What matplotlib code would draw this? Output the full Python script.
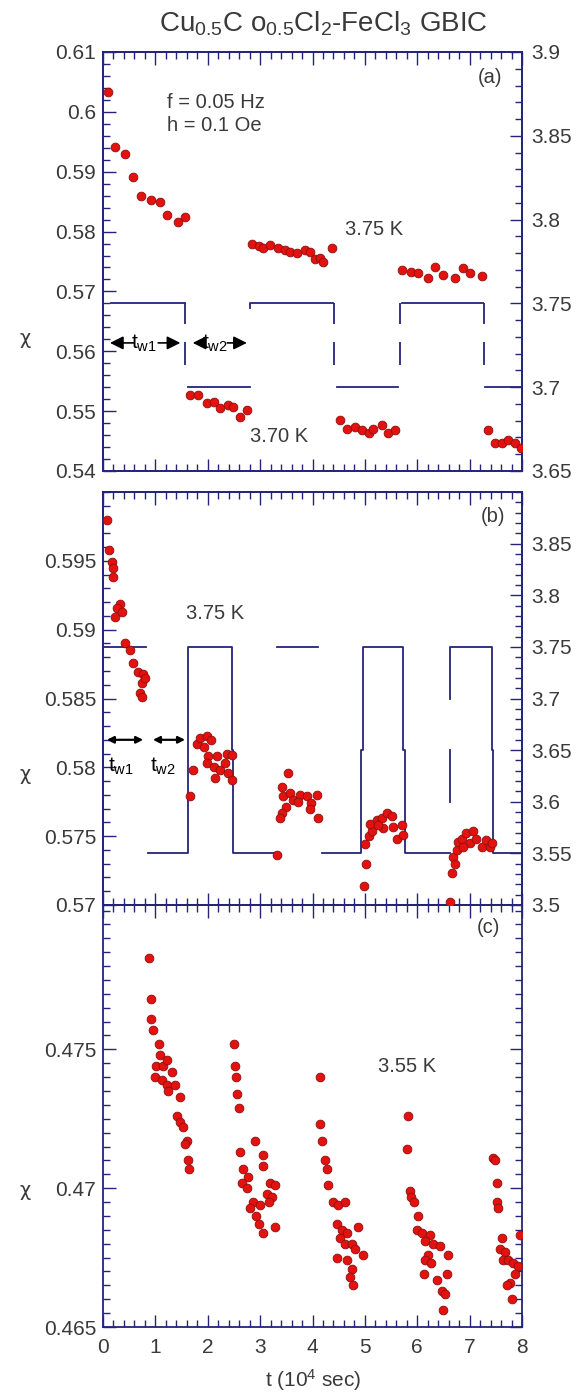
import numpy as np
import matplotlib
matplotlib.use('Agg')
import matplotlib.pyplot as plt
from matplotlib.ticker import MultipleLocator, FormatStrFormatter

plt.rcParams['font.family'] = ['Liberation Sans', 'DejaVu Sans']
plt.rcParams['mathtext.fontset'] = 'custom'
plt.rcParams['mathtext.rm'] = 'Liberation Sans'
plt.rcParams['mathtext.it'] = 'Liberation Sans'

# ---- data (t in 10^4 s) ----
# panel (a): f = 0.05 Hz, T cycled 3.75 K / 3.70 K
a_t = [0.10, 0.22, 0.42, 0.57, 0.72, 0.92, 1.08, 1.22, 1.43, 1.57,
       1.66, 1.82, 1.98, 2.11, 2.23, 2.39, 2.49, 2.62, 2.74,
       2.85, 2.98, 3.06, 3.19, 3.35, 3.47, 3.57, 3.70, 3.86, 3.95, 4.05, 4.14, 4.21, 4.37,
       4.52, 4.65, 4.81, 4.94, 5.07, 5.16, 5.32, 5.45, 5.58,
       5.70, 5.89, 6.02, 6.21, 6.34, 6.50, 6.72, 6.88, 7.01, 7.23,
       7.36, 7.48, 7.61, 7.74, 7.87, 7.99]
a_chi = [0.6034, 0.5941, 0.5929, 0.5892, 0.5859, 0.5852, 0.5849, 0.5828, 0.5816, 0.5824,
         0.5527, 0.5527, 0.5513, 0.5516, 0.5505, 0.5510, 0.5507, 0.5491, 0.5502,
         0.5780, 0.5776, 0.5772, 0.5778, 0.5772, 0.5770, 0.5766, 0.5764, 0.5769, 0.5766, 0.5755, 0.5756, 0.5750, 0.5772,
         0.5485, 0.5471, 0.5474, 0.5469, 0.5463, 0.5471, 0.5477, 0.5463, 0.5469,
         0.5736, 0.5733, 0.5730, 0.5722, 0.5741, 0.5727, 0.5722, 0.5739, 0.5730, 0.5725,
         0.5469, 0.5446, 0.5446, 0.5452, 0.5446, 0.5438]
# temperature trace (a), NaN = gap in the record
a_T_t = [0.15, 1.57, np.nan, 1.62, 2.80, np.nan, 2.80, 2.80, 4.40, np.nan, 4.46, 5.63, np.nan,
         5.70, 7.26, np.nan, 7.29, 8.0]
a_T = [3.75, 3.75, np.nan, 3.70, 3.70, np.nan, 3.747, 3.75, 3.75, np.nan, 3.70, 3.70, np.nan,
       3.75, 3.75, np.nan, 3.70, 3.70]
# broken vertical steps of the T record in (a)
a_jumps = [1.57, 4.42, 5.67, 7.27]
a_jump_lo = [3.738, 3.713]
a_jump_hi = [3.750, 3.727]

# panel (b): 3.75 K / 3.55 K
b_t = [0.07, 0.12, 0.17, 0.20, 0.19, 0.32, 0.26, 0.23, 0.36, 0.42, 0.52, 0.58, 0.67, 0.77, 0.74, 0.71, 0.80, 0.74,
       1.66, 1.71, 1.79, 1.85, 1.98, 2.07, 1.92, 2.01, 1.98, 2.11, 2.17, 2.23, 2.33, 2.39, 2.36, 2.46, 2.46, 2.14,
       3.32, 3.54, 3.41, 3.44, 3.57, 3.63, 3.50, 3.41, 3.38, 3.76, 3.89, 3.98, 4.08, 3.95, 4.11, 3.73,
       4.99, 5.02, 5.00, 5.07, 5.13, 5.10, 5.23, 5.32, 5.42, 5.35, 5.51, 5.54, 5.61, 5.70, 5.73, 5.26,
       6.63, 6.66, 6.69, 6.75, 6.78, 6.85, 6.94, 7.01, 7.07, 7.13, 7.23, 7.32, 7.39, 7.42, 6.88, 6.72]
b_chi = [0.5980, 0.5958, 0.5949, 0.5945, 0.5938, 0.5919, 0.5916, 0.5909, 0.5913, 0.5890, 0.5885, 0.5876, 0.5869,
         0.5868, 0.5861, 0.5854, 0.5865, 0.5851,
         0.5779, 0.5798, 0.5817, 0.5821, 0.5823, 0.5820, 0.5815, 0.5808, 0.5803, 0.5800, 0.5808, 0.5798, 0.5803,
         0.5796, 0.5810, 0.5809, 0.5791, 0.5792,
         0.5736, 0.5796, 0.5786, 0.5779, 0.5781, 0.5776, 0.5771, 0.5767, 0.5763, 0.5780, 0.5779, 0.5774, 0.5780,
         0.5770, 0.5763, 0.5775,
         0.5714, 0.5730, 0.5744, 0.5750, 0.5754, 0.5759, 0.5762, 0.5763, 0.5767, 0.5756, 0.5765, 0.5757, 0.5748,
         0.5758, 0.5751, 0.5758,
         0.5702, 0.5723, 0.5735, 0.5740, 0.5746, 0.5748, 0.5752, 0.5745, 0.5754, 0.5748, 0.5742, 0.5747, 0.5742,
         0.5745, 0.5742, 0.5730]
b_T_t = [0.0, 0.83, np.nan, 0.86, 1.63, 1.63, 2.46, 2.46, 2.49, 2.49, 3.32, np.nan,
         3.32, 4.11, np.nan, 4.18, 4.93, 4.93, 4.97, 4.97, 5.73, 5.73, 5.77, 5.77, 6.63, np.nan,
         6.63, 6.63, np.nan, 6.63, 6.63, 7.42, 7.42, 7.45, 7.45, 8.0]
b_T = [3.75, 3.75, np.nan, 3.55, 3.55, 3.75, 3.75, 3.65, 3.65, 3.55, 3.55, np.nan,
       3.75, 3.75, np.nan, 3.55, 3.55, 3.65, 3.65, 3.75, 3.75, 3.65, 3.65, 3.55, 3.55, np.nan,
       3.60, 3.65, np.nan, 3.70, 3.75, 3.75, 3.65, 3.65, 3.55, 3.55]

# panel (c): 3.55 K
c_t = [0.88, 0.92, 0.92, 0.96, 1.06, 1.09, 1.02, 1.15, 1.22, 1.31, 1.00, 1.12, 1.22, 1.37, 1.25, 1.47, 1.41, 1.47,
       1.53, 1.60, 1.57, 1.63, 1.65,
       2.50, 2.52, 2.54, 2.56, 2.60, 2.90, 2.62, 3.06, 3.05, 2.68, 2.77, 2.65, 2.74, 3.19, 3.28, 3.13, 3.22, 2.87,
       2.81, 3.00, 2.93, 2.97, 3.06, 3.28, 3.16,
       4.14, 4.14, 4.19, 4.24, 4.27, 4.30, 4.40, 4.49, 4.62, 4.46, 4.56, 4.65, 4.87, 4.53, 4.62, 4.75, 4.81, 4.97,
       4.46, 4.65, 4.75, 4.72, 4.78,
       5.83, 5.80, 5.86, 5.89, 5.93, 6.02, 5.99, 6.09, 6.24, 6.15, 6.31, 6.43, 6.59, 6.21, 6.15, 6.27, 6.12, 6.37,
       6.56, 6.47, 6.53, 6.50,
       7.45, 7.48, 7.52, 7.52, 7.55, 7.61, 7.58, 7.68, 7.64, 7.74, 7.83, 7.93, 7.96, 7.87, 7.77, 7.80, 7.71]
c_chi = [0.4783, 0.4768, 0.4761, 0.4757, 0.4752, 0.4748, 0.4744, 0.4744, 0.4746, 0.4742, 0.4740, 0.4739, 0.4737,
         0.4737, 0.4735, 0.4733, 0.4726, 0.4724, 0.4722, 0.4717, 0.4716, 0.4710, 0.4707,
         0.4752, 0.4744, 0.4740, 0.4734, 0.4729, 0.4717, 0.4713, 0.4712, 0.4708, 0.4707, 0.4704, 0.4702, 0.4700,
         0.4702, 0.4701, 0.4698, 0.4697, 0.4695, 0.4693, 0.4694, 0.4690, 0.4687, 0.4684, 0.4686, 0.4695,
         0.4740, 0.4723, 0.4717, 0.4710, 0.4707, 0.4701, 0.4695, 0.4694, 0.4695, 0.4687, 0.4685, 0.4684, 0.4686,
         0.4682, 0.4680, 0.4680, 0.4678, 0.4676, 0.4675, 0.4674, 0.4671, 0.4668, 0.4665,
         0.4726, 0.4714, 0.4699, 0.4697, 0.4695, 0.4690, 0.4685, 0.4684, 0.4683, 0.4681, 0.4680, 0.4679, 0.4676,
         0.4676, 0.4674, 0.4673, 0.4669, 0.4667, 0.4669, 0.4663, 0.4662, 0.4656,
         0.4711, 0.4710, 0.4702, 0.4695, 0.4693, 0.4682, 0.4678, 0.4677, 0.4674, 0.4674, 0.4673, 0.4672, 0.4683,
         0.4669, 0.4666, 0.4660, 0.4665]

navy = '#24247a'
dot = dict(ls='none', marker='o', ms=6.3, mfc='#e3120f', mec='#8a1010', mew=0.6, zorder=4)
tcol = '#3a3a3a'


def style(ax, ymaj, ymin, xlabels=False):
    ax.set_xlim(0, 8)
    ax.xaxis.set_major_locator(MultipleLocator(1))
    ax.xaxis.set_minor_locator(MultipleLocator(0.2))
    ax.yaxis.set_major_locator(MultipleLocator(ymaj))
    ax.yaxis.set_minor_locator(MultipleLocator(ymin))
    ax.yaxis.set_major_formatter(FormatStrFormatter('%g'))
    ax.tick_params(which='both', direction='in', color=navy, labelcolor=tcol,
                   labelsize=15, top=True, bottom=True, labelbottom=xlabels, pad=5)
    ax.tick_params(which='major', length=9, width=1)
    ax.tick_params(which='minor', length=5, width=1)
    ax.tick_params(axis='x', pad=8)
    for s in ax.spines.values():
        s.set_color(navy)
        s.set_linewidth(1.3)


def twin_style(tw, lo, hi, step):
    tw.set_ylim(lo, hi)
    tw.yaxis.set_major_locator(MultipleLocator(0.05))
    tw.yaxis.set_minor_locator(MultipleLocator(step))
    tw.yaxis.set_major_formatter(FormatStrFormatter('%g'))
    tw.tick_params(which='both', direction='in', color=navy, labelcolor=tcol, labelsize=15, pad=7)
    tw.tick_params(which='major', length=9, width=1)
    tw.tick_params(which='minor', length=5, width=1)
    for s in tw.spines.values():
        s.set_color(navy)
        s.set_linewidth(1.3)


fig = plt.figure(figsize=(5.84, 13.95), dpi=100)
L, W = 103 / 584, 419 / 584
axa = fig.add_axes([L, 1 - 471 / 1395, W, 419 / 1395])
axb = fig.add_axes([L, 1 - 905 / 1395, W, 413 / 1395])
axc = fig.add_axes([L, 1 - 1327 / 1395, W, 422 / 1395])

# ---- (a) ----
style(axa, 0.01, 0.002)
axa.set_ylim(0.54, 0.61)
axa.tick_params(which='both', right=False)
twa = axa.twinx()
twin_style(twa, 3.65, 3.9, 0.01)
twa.plot(a_T_t, a_T, color=navy, lw=1.3)
for lo, hi in zip(a_jump_lo, a_jump_hi):
    twa.vlines(a_jumps, lo, hi, color=navy, lw=1.3)
axa.set_zorder(twa.get_zorder() + 1)
axa.patch.set_visible(False)
axa.plot(a_t, a_chi, **dot)
axa.text(1.22, 0.6016, 'f = 0.05 Hz', fontsize=14.5, color=tcol, va='center')
axa.text(1.22, 0.5978, 'h = 0.1 Oe', fontsize=14.5, color=tcol, va='center')
axa.text(7.39, 0.6057, '(a)', fontsize=14.5, color=tcol, ha='center', va='center')
axa.text(4.62, 0.5803, '3.75 K', fontsize=14.5, color=tcol, va='center')
axa.text(2.81, 0.5457, '3.70 K', fontsize=14.5, color=tcol, va='center')
yw = 0.5614
arr = dict(arrowstyle='-|>', color='k', lw=1.2, mutation_scale=20)
for tail, tip in [(0.64, 0.08), (1.0, 1.53), (1.95, 1.66), (2.32, 2.8)]:
    axa.annotate('', xy=(tip, yw), xytext=(tail, yw), arrowprops=arr)
axa.text(0.78, yw, r'$\mathregular{t_{w1}}$', fontsize=15, color='k', ha='center', va='center')
axa.text(2.14, yw, r'$\mathregular{t_{w2}}$', fontsize=15, color='k', ha='center', va='center')

# ---- (b) ----
style(axb, 0.005, 0.001)
axb.set_ylim(0.57, 0.6)
axb.set_yticks([0.57, 0.575, 0.58, 0.585, 0.59, 0.595])
axb.tick_params(which='both', right=False)
twb = axb.twinx()
twin_style(twb, 3.5, 3.9, 0.01)
twb.set_yticks([3.5, 3.55, 3.6, 3.65, 3.7, 3.75, 3.8, 3.85])
twb.plot(b_T_t, b_T, color=navy, lw=1.3)
axb.set_zorder(twb.get_zorder() + 1)
axb.patch.set_visible(False)
axb.plot(b_t, b_chi, **dot)
axb.text(7.45, 0.5982, '(b)', fontsize=14.5, color=tcol, ha='center', va='center')
axb.text(1.58, 0.5912, '3.75 K', fontsize=14.5, color=tcol, va='center')
yb = 0.5820
arr2 = dict(arrowstyle='<|-|>', color='k', lw=1.6, mutation_scale=10)
for x0, x1 in [(0.02, 0.82), (0.9, 1.62)]:
    axb.annotate('', xy=(x0, yb), xytext=(x1, yb), arrowprops=arr2)
axb.text(0.35, 0.5801, r'$\mathregular{t_{w1}}$', fontsize=15, color='k', ha='center', va='center')
axb.text(1.15, 0.5801, r'$\mathregular{t_{w2}}$', fontsize=15, color='k', ha='center', va='center')

# ---- (c) ----
style(axc, 0.005, 0.0005, xlabels=True)
axc.set_ylim(0.465, 0.4802)
axc.set_yticks([0.465, 0.47, 0.475])
axc.tick_params(which='both', right=True)
axc.plot(c_t, c_chi, **dot)
axc.text(7.35, 0.4794, '(c)', fontsize=14.5, color=tcol, ha='center', va='center')
axc.text(5.25, 0.4744, '3.55 K', fontsize=14.5, color=tcol, va='center')

# labels
for yp in [338, 775, 1190]:
    fig.text(25 / 584, 1 - yp / 1395, 'χ', fontsize=14, color=tcol, ha='center', va='center',
             family=['DejaVu Sans'])
fig.text(313 / 584, 1 - 1380 / 1395, r't (10$^{4}$ sec)', fontsize=15, color=tcol, ha='center', va='center')
fig.text(323 / 584, 1 - 24 / 1395, r'Cu$_{0.5}$C o$_{0.5}$Cl$_{2}$-FeCl$_{3}$ GBIC',
         fontsize=20, color=tcol, ha='center', va='center')

fig.savefig('out.png', dpi=100)
